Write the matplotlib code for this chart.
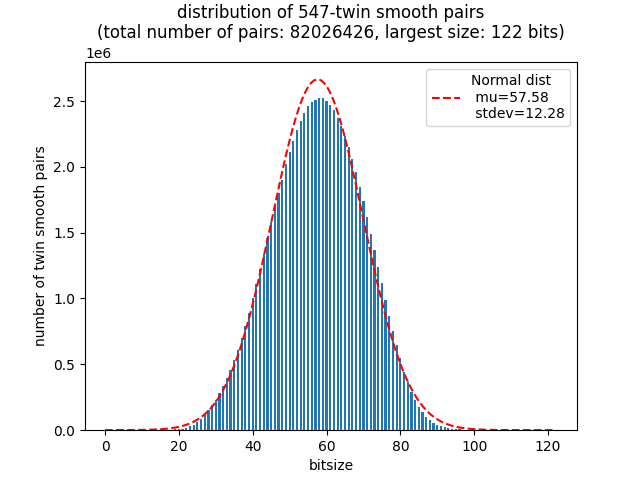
import numpy as np
import matplotlib
matplotlib.use("Agg")
from matplotlib import pyplot as plt

# bitsize of each pair and how many pairs fall in it (in units of 1e6)
bitsize = np.arange(0, 123)
counts_m = [0.0] * 15 + [
    0.0005, 0.001, 0.002, 0.003, 0.005,            # 15-19
    0.007, 0.011, 0.018, 0.028, 0.042,             # 20-24
    0.06, 0.085, 0.115, 0.15, 0.19,                # 25-29
    0.232, 0.282, 0.335, 0.395, 0.46,              # 30-34
    0.53, 0.605, 0.70, 0.79, 0.89,                 # 35-39
    1.00, 1.11, 1.225, 1.34, 1.46,                 # 40-44
    1.58, 1.70, 1.80, 1.90, 2.02,                  # 45-49
    2.11, 2.20, 2.28, 2.35, 2.41,                  # 50-54
    2.46, 2.49, 2.505, 2.52, 2.52,                 # 55-59
    2.50, 2.47, 2.43, 2.37, 2.31,                  # 60-64
    2.235, 2.15, 2.06, 1.96, 1.85,                 # 65-69
    1.74, 1.62, 1.49, 1.37, 1.24,                  # 70-74
    1.12, 0.99, 0.87, 0.755, 0.645,                # 75-79
    0.545, 0.445, 0.366, 0.29, 0.227,              # 80-84
    0.176, 0.135, 0.10, 0.076, 0.055,              # 85-89
    0.04, 0.03, 0.02, 0.014, 0.01,                 # 90-94
    0.007, 0.005, 0.003, 0.002, 0.0015,            # 95-99
    0.001] + [0.0] * 22
counts = np.array(counts_m) * 1e6

total = 82026426
largest = 122
mu = 57.58
stdev = 12.28

fig = plt.figure(figsize=(6.35, 4.8), dpi=100)
ax = fig.add_subplot(111)
fig.subplots_adjust(left=0.134, right=0.909, bottom=0.104, top=0.871)

ax.bar(bitsize, counts, width=0.6, color='#1f77b4')

# fitted normal curve scaled to the total number of pairs
xs = np.linspace(0, largest, 500)
ys = total / (stdev * np.sqrt(2 * np.pi)) * np.exp(-0.5 * ((xs - mu) / stdev) ** 2)
ax.plot(xs, ys, 'r--', lw=1.5, label='Normal dist\n mu=%.2f\n stdev=%.2f' % (mu, stdev))

ax.set_xlim(-5.4, 127.9)
ax.set_title('distribution of 547-twin smooth pairs\n(total number of pairs: %d, largest size: %d bits)' % (total, largest))
ax.set_xlabel('bitsize')
ax.set_ylabel('number of twin smooth pairs')
ax.legend(loc='upper right')

fig.savefig('out.png', dpi=100)
